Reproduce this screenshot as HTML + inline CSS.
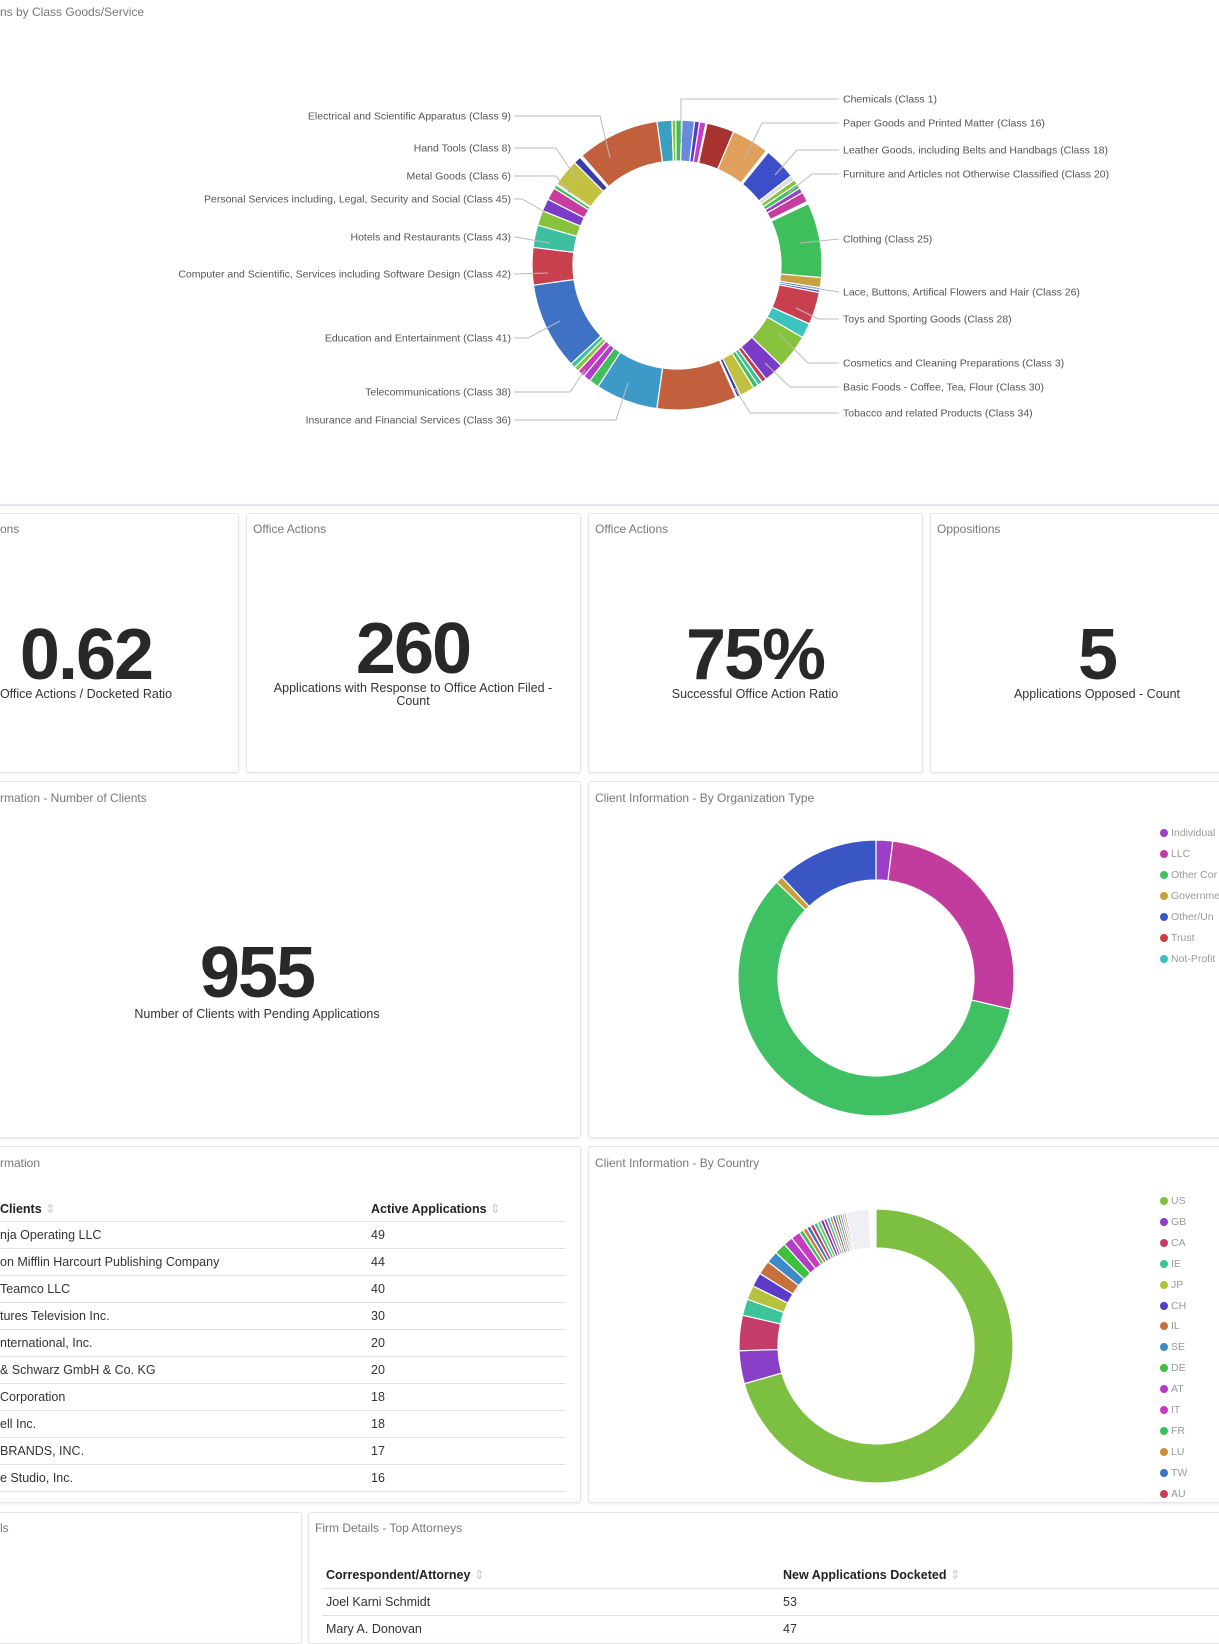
<!DOCTYPE html>
<html><head><meta charset="utf-8">
<style>
body{margin:0;width:1219px;height:1626px;overflow:hidden;background:#fff;font-family:"Liberation Sans",sans-serif;position:relative}
.card{position:absolute;border:1px solid #e2e5ea;border-radius:3px;background:#fff;box-shadow:0 1px 2px rgba(0,0,0,0.08)}
.t{position:absolute;font-size:12px;color:#777;white-space:nowrap}
.big{position:absolute;font-weight:bold;color:#282828;font-size:72px;letter-spacing:-2px;transform:translateX(-50%);white-space:nowrap;line-height:1}
.sub{position:absolute;font-size:12.5px;color:#333;transform:translateX(-50%);text-align:center;white-space:nowrap;line-height:13px}
.row{position:absolute;font-size:12.5px;color:#333;white-space:nowrap}
.hd{font-weight:bold;color:#222}
.ln{position:absolute;height:1px;background:#dcdfe3}
.lg{position:absolute;font-size:10.5px;color:#999;white-space:nowrap}
.lg i{display:inline-block;width:8px;height:8px;border-radius:50%;margin-right:3px;vertical-align:-1px}
svg text{font-family:"Liberation Sans",sans-serif;font-size:10.5px;fill:#555}
</style></head><body>
<div class="t" style="left:0;top:5px;">ns by Class Goods/Service</div>
<div style="position:absolute;left:0;top:504px;width:1219px;height:2px;background:#e3e6ec"></div>

<svg id="s1" style="position:absolute;left:0;top:3px" width="1219" height="500"></svg>

<div class="card" style="left:-5px;top:513px;width:242px;height:258px"></div>
<div class="card" style="left:246px;top:513px;width:333px;height:258px"></div>
<div class="card" style="left:588px;top:513px;width:333px;height:258px"></div>
<div class="card" style="left:930px;top:513px;width:300px;height:258px"></div>
<div class="t" style="left:0;top:522px">ons</div>
<div class="t" style="left:253px;top:522px">Office Actions</div>
<div class="t" style="left:595px;top:522px">Office Actions</div>
<div class="t" style="left:937px;top:522px">Oppositions</div>
<div class="big" style="left:86px;top:619px">0.62</div>
<div class="sub" style="left:86px;top:688px">Office Actions / Docketed Ratio</div>
<div class="big" style="left:413px;top:613px">260</div>
<div class="sub" style="left:413px;top:682px">Applications with Response to Office Action Filed -<br>Count</div>
<div class="big" style="left:755px;top:619px">75%</div>
<div class="sub" style="left:755px;top:688px">Successful Office Action Ratio</div>
<div class="big" style="left:1097px;top:619px">5</div>
<div class="sub" style="left:1097px;top:688px">Applications Opposed - Count</div>

<div class="card" style="left:-5px;top:781px;width:584px;height:355px"></div>
<div class="card" style="left:588px;top:781px;width:640px;height:355px"></div>
<div class="t" style="left:0;top:791px">rmation - Number of Clients</div>
<div class="t" style="left:595px;top:791px">Client Information - By Organization Type</div>
<div class="big" style="left:257px;top:937px">955</div>
<div class="sub" style="left:257px;top:1008px">Number of Clients with Pending Applications</div>
<svg id="s2" style="position:absolute;left:588px;top:787px" width="560" height="357"></svg>
<div class="lg" style="left:1160px;top:827px"><i style="background:#9b3fc9"></i>Individual</div>
<div class="lg" style="left:1160px;top:848px"><i style="background:#c23c9d"></i>LLC</div>
<div class="lg" style="left:1160px;top:869px"><i style="background:#3ec063"></i>Other Cor</div>
<div class="lg" style="left:1160px;top:890px"><i style="background:#c7a03a"></i>Governme</div>
<div class="lg" style="left:1160px;top:911px"><i style="background:#3a55c4"></i>Other/Un</div>
<div class="lg" style="left:1160px;top:932px"><i style="background:#c9403f"></i>Trust</div>
<div class="lg" style="left:1160px;top:953px"><i style="background:#3cbfc3"></i>Not-Profit</div>

<div class="card" style="left:-5px;top:1146px;width:584px;height:355px"></div>
<div class="card" style="left:588px;top:1146px;width:640px;height:355px"></div>
<div class="t" style="left:0;top:1156px">rmation</div>
<div class="t" style="left:595px;top:1156px">Client Information - By Country</div>
<div id="tbl"></div>
<svg id="s3" style="position:absolute;left:588px;top:1154px" width="560" height="357"></svg>
<div id="lg3"></div>

<div class="card" style="left:-5px;top:1512px;width:305px;height:130px"></div>
<div class="card" style="left:308px;top:1512px;width:920px;height:130px"></div>
<div class="t" style="left:0;top:1521px">ls</div>
<div class="t" style="left:315px;top:1521px">Firm Details - Top Attorneys</div>
<div class="row hd" style="left:326px;top:1567px">Correspondent/Attorney <span style="color:#ccc;font-weight:normal">⇕</span></div>
<div class="row hd" style="left:783px;top:1567px">New Applications Docketed <span style="color:#ccc;font-weight:normal">⇕</span></div>
<div class="ln" style="left:322px;top:1588px;width:897px"></div>
<div class="row" style="left:326px;top:1595px">Joel Karni Schmidt</div><div class="row" style="left:783px;top:1595px">53</div>
<div class="ln" style="left:322px;top:1615px;width:897px"></div>
<div class="row" style="left:326px;top:1622px">Mary A. Donovan</div><div class="row" style="left:783px;top:1622px">47</div>

<script>
function arc(cx,cy,r1,r2,a0,a1,col){
 var f=Math.PI/180;function p(r,a){return [cx+r*Math.sin(a*f),cy-r*Math.cos(a*f)];}
 var l=(a1-a0)>180?1:0,A=p(r2,a0),B=p(r2,a1),C=p(r1,a1),D=p(r1,a0);
 return '<path d="M'+A+'A'+r2+','+r2+' 0 '+l+' 1 '+B+'L'+C+'A'+r1+','+r1+' 0 '+l+' 0 '+D+'Z" fill="'+col+'" stroke="#fff" stroke-width="1.2"/>';
}
var s='';
var seg=[[352,358,'#3aa0c0'],[358,359.5,'#86c23c'],[359.5,362,'#3fbf5c'],[362,367,'#6a88de'],[367,369,'#5a3cc8'],[369,371.5,'#c83cc8'],[372,383,'#a8322e'],[383,398,'#e0a05c'],[399,412,'#3d4fc8'],[412,414,'#ddd'],[414,416,'#86c23c'],[416,418,'#3fbf5c'],[418,420,'#9b3fc9'],[420,424,'#c83ca0'],[425,455,'#3fbf5c'],[455,459,'#c8a040'],[459,460,'#3d72c4'],[460,461,'#3a55c4'],[461,474,'#c8404e'],[474,480,'#3cc3c0'],[480,494,'#86c23c'],[494,502,'#7a3cc8'],[502,504,'#c8404e'],[504,506,'#3cc0a0'],[506,508,'#3fbf5c'],[508,514,'#c2c040'],[514,515.5,'#3a3ca8'],[516,548,'#c2603d'],[548,573,'#3d9ac8'],[573,577,'#3fbf5c'],[577,580,'#b03cc8'],[580,583,'#c83cc0'],[583,585,'#86c23c'],[585,587,'#3cc0a0'],[587,622,'#3f72c4'],[622,637,'#c8404e'],[637,646,'#3cc0a0'],[646,652,'#86c23c'],[652,657,'#7a3cc8'],[657,662,'#c83ca0'],[662,663.5,'#3fbf5c'],[664,675,'#c2c040'],[675,678,'#3a3ca8'],[679,712,'#c2603d']];
seg.forEach(function(g){s+=arc(677,262,104,145,g[0],g[1],g[2]);});
var L=[['Electrical and Scientific Apparatus (Class 9)',113,[[600,113],[610,155]]],['Hand Tools (Class 8)',145,[[556,145],[578,178]]],['Metal Goods (Class 6)',173,[[556,173],[570,190]]],['Personal Services including, Legal, Security and Social (Class 45)',196,[[522,196],[545,209]]],['Hotels and Restaurants (Class 43)',234,[[515,234],[550,240]]],['Computer and Scientific, Services including Software Design (Class 42)',271,[[548,270]]],['Education and Entertainment (Class 41)',335,[[528,335],[560,318]]],['Telecommunications (Class 38)',389,[[570,389],[585,367]]],['Insurance and Financial Services (Class 36)',417,[[616,417],[628,380]]]];
L.forEach(function(l){s+='<text x="511" y="'+(l[1]+3.5)+'" text-anchor="end">'+l[0].replace(/&/g,'&amp;')+'</text>';var pts=[[514,l[1]]].concat(l[2]);s+='<polyline points="'+pts.join(' ')+'" fill="none" stroke="#bbb" stroke-width="1"/>';});
var R=[['Chemicals (Class 1)',96,[[681,96],[681,140]]],['Paper Goods and Printed Matter (Class 16)',120,[[762,120],[745,155]]],['Leather Goods, including Belts and Handbags (Class 18)',147,[[797,147],[775,172]]],['Furniture and Articles not Otherwise Classified (Class 20)',171,[[812,171],[788,190]]],['Clothing (Class 25)',236,[[800,240]]],['Lace, Buttons, Artifical Flowers and Hair (Class 26)',289,[[800,283]]],['Toys and Sporting Goods (Class 28)',316,[[818,316],[796,305]]],['Cosmetics and Cleaning Preparations (Class 3)',360,[[808,360],[778,330]]],['Basic Foods - Coffee, Tea, Flour (Class 30)',384,[[790,384],[765,360]]],['Tobacco and related Products (Class 34)',410,[[750,410],[735,385]]]];
R.forEach(function(l){s+='<text x="843" y="'+(l[1]+3.5)+'">'+l[0]+'</text>';var pts=[[839,l[1]]].concat(l[2]);s+='<polyline points="'+pts.join(' ')+'" fill="none" stroke="#bbb" stroke-width="1"/>';});
document.getElementById('s1').innerHTML=s;
s='';
[[0,7,'#9b3fc9'],[7,103,'#c23c9d'],[103,314,'#3ec063'],[314,317,'#c7a03a'],[317,360,'#3a55c4']].forEach(function(g){s+=arc(288,191,98,138,g[0],g[1],g[2]);});
document.getElementById('s2').innerHTML=s;
s='';
var c3=[[0,254,'#7dbf40'],[254,268,'#8a3fc8'],[268,283,'#c43c6a'],[283,290,'#3cc39a'],[290,296,'#b4c23c'],[296,302,'#5a3cc8'],[302,308,'#c8703c'],[308,313,'#3c8ac8'],[313,318,'#3fbf3c'],[318,322,'#b03cc8'],[322,326,'#c83cc0']];
var ex=['#3fbf5c','#c8803c','#3c72c8','#c83c5a','#3cc0a0','#86c23c','#5a3cc8','#c83ca0','#3cc0c0','#c8a03c','#7a3cc8','#3fbf5c','#c84c3c','#3c9ac8','#a0c03c','#c83cc8'];
var a=326;ex.forEach(function(c,i){var w=Math.max(0.7,1.8-i*0.07);c3.push([a,a+w,c]);a+=w+0.05;});
c3.push([a,357,'#eef0f4']);
c3.forEach(function(g){s+=arc(288,192,98,137,g[0],g[1],g[2]);});
document.getElementById('s3').innerHTML=s;
var codes=['US','GB','CA','IE','JP','CH','IL','SE','DE','AT','IT','FR','LU','TW','AU'];
var cols=['#7dbf40','#8a3fc8','#c43c6a','#3cc39a','#b4c23c','#5a3cc8','#c8703c','#3c8ac8','#3fbf3c','#b03cc8','#c83cc0','#3fbf5c','#c8903c','#3c72c8','#c83c5a'];
s='';codes.forEach(function(c,i){s+='<div class="lg" style="left:1160px;top:'+(1195+i*20.9)+'px"><i style="background:'+cols[i]+'"></i>'+c+'</div>';});
document.getElementById('lg3').innerHTML=s;
var rows=[['nja Operating LLC',49],['on Mifflin Harcourt Publishing Company',44],[' Teamco LLC',40],['tures Television Inc.',30],['nternational, Inc.',20],['&amp; Schwarz GmbH &amp; Co. KG',20],[' Corporation',18],['ell Inc.',18],[' BRANDS, INC.',17],['e Studio, Inc.',16]];
s='<div class="row hd" style="left:0;top:1201px">Clients <span style="color:#ccc;font-weight:normal">⇕</span></div><div class="row hd" style="left:371px;top:1201px">Active Applications <span style="color:#ccc;font-weight:normal">⇕</span></div>';
rows.forEach(function(r,i){var y=1228+i*27;s+='<div class="ln" style="left:0;top:'+(y-7)+'px;width:565px"></div><div class="row" style="left:0;top:'+y+'px">'+r[0]+'</div><div class="row" style="left:371px;top:'+y+'px">'+r[1]+'</div>';});
s+='<div class="ln" style="left:0;top:'+(1228+10*27-7)+'px;width:565px"></div>';
document.getElementById('tbl').innerHTML=s;
</script>
</body></html>
